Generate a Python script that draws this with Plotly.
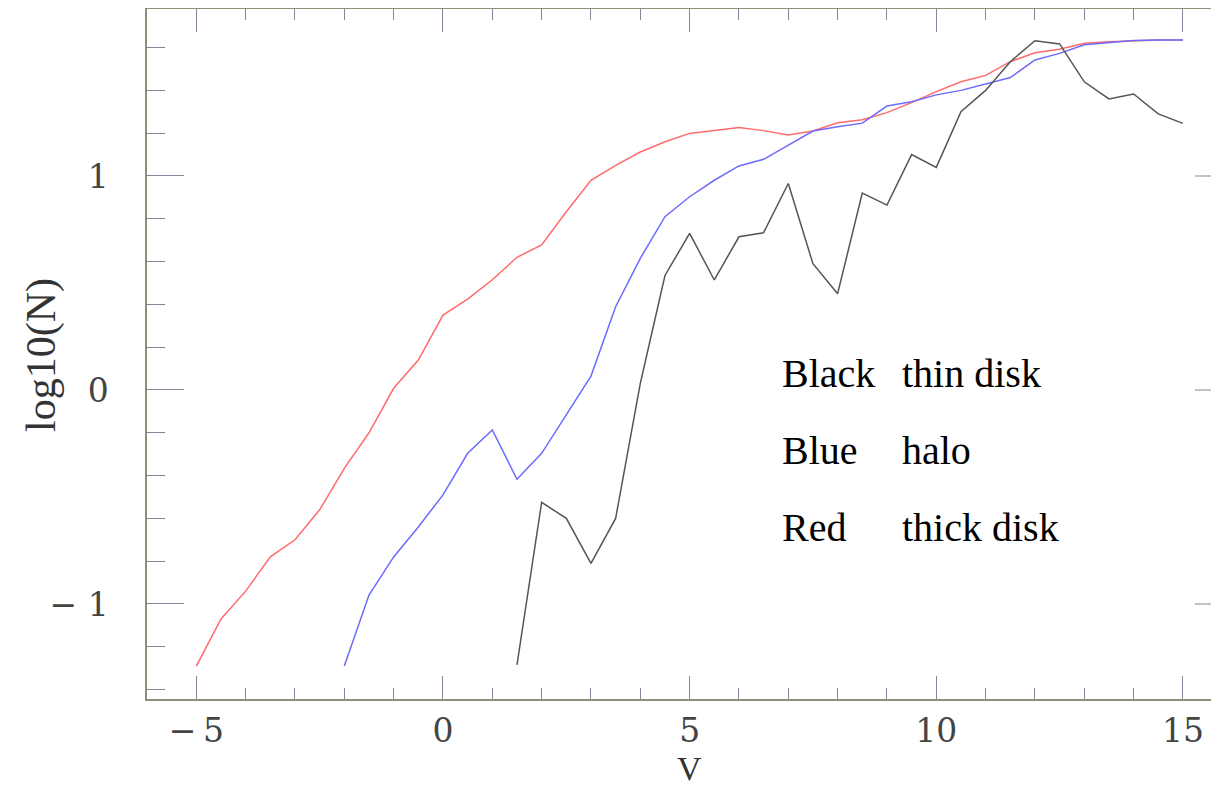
import plotly.graph_objects as go

# ---- data ----
v_red = [-5, -4.5, -4, -3.5, -3, -2.5, -2, -1.5, -1, -0.5, 0, 0.5, 1, 1.5, 2, 2.5, 3, 3.5, 4, 4.5,
         5, 5.5, 6, 6.5, 7, 7.5, 8, 8.5, 9, 9.5, 10, 10.5, 11, 11.5, 12, 12.5, 13, 13.5, 14, 14.5, 15]
n_red = [-1.29, -1.07, -0.94, -0.78, -0.70, -0.56, -0.366, -0.20, 0.008, 0.14, 0.35, 0.425, 0.515, 0.62,
         0.678, 0.833, 0.98, 1.05, 1.112, 1.16, 1.199, 1.212, 1.226, 1.212, 1.192, 1.21, 1.249, 1.263,
         1.296, 1.343, 1.394, 1.44, 1.47, 1.534, 1.576, 1.592, 1.62, 1.627, 1.633, 1.636, 1.636]

v_blue = [-2, -1.5, -1, -0.5, 0, 0.5, 1, 1.5, 2, 2.5, 3, 3.5, 4, 4.5, 5, 5.5, 6, 6.5, 7, 7.5, 8, 8.5,
          9, 9.5, 10, 10.5, 11, 11.5, 12, 12.5, 13, 13.5, 14, 14.5, 15]
n_blue = [-1.29, -0.958, -0.78, -0.64, -0.49, -0.296, -0.187, -0.417, -0.296, -0.117, 0.065, 0.389,
          0.615, 0.81, 0.903, 0.98, 1.047, 1.078, 1.145, 1.21, 1.23, 1.247, 1.327, 1.347, 1.379, 1.40,
          1.43, 1.46, 1.542, 1.573, 1.613, 1.623, 1.633, 1.636, 1.636]

v_black = [1.5, 2, 2.5, 3, 3.5, 4, 4.5, 5, 5.5, 6, 6.5, 7, 7.5, 8, 8.5, 9, 9.5, 10, 10.5, 11, 11.5,
           12, 12.5, 13, 13.5, 14, 14.5, 15]
n_black = [-1.285, -0.525, -0.60, -0.81, -0.60, 0.031, 0.535, 0.732, 0.514, 0.716, 0.735, 0.965, 0.59,
           0.45, 0.92, 0.864, 1.10, 1.04, 1.30, 1.40, 1.534, 1.632, 1.617, 1.44, 1.36, 1.383, 1.29, 1.246]

x_tickvals = [-5, 0, 5, 10, 15]
x_ticktext = ["\u2212\u20095", "0", "5", "10", "15"]
y_tickvals = [-1, 0, 1]
y_ticktext = ["\u2212 1", "0", "1"]

legend_names = ["Black", "Blue", "Red"]
legend_desc = ["thin disk", "halo", "thick disk"]
legend_y = [0.075, -0.285, -0.643]

# ---- figure (page body adds an 8px offset, so the figure is 8px smaller) ----
OFF = 8
W, H = 1219 - OFF, 786 - OFF
ML = 147 - OFF           # left frame at x=147 on the page
MT = 9 - OFF             # top frame at y=9 on the page
MB = H - (699 - OFF)     # bottom frame at y=699 on the page
plot_w = W - ML
plot_h = H - MT - MB
px_per_v = 49.33
px_per_n = 214.0
x_range = [-6.0, -6.0 + plot_w / px_per_v]
y_range = [-1.444, -1.444 + plot_h / px_per_n]

fig = go.Figure()
fig.add_trace(go.Scatter(x=v_red, y=n_red, mode="lines", line=dict(color="#ff6b6b", width=1.5),
                         showlegend=False))
fig.add_trace(go.Scatter(x=v_blue, y=n_blue, mode="lines", line=dict(color="#6b6bff", width=1.5),
                         showlegend=False))
fig.add_trace(go.Scatter(x=v_black, y=n_black, mode="lines", line=dict(color="#555555", width=1.5),
                         showlegend=False))

axis_col = "#8f8f7c"
tick_col = "#85859a"
tick_font = dict(family="DejaVu Serif", size=33, color="#444444")

fig.update_layout(
    width=W, height=H,
    margin=dict(l=ML, r=0, t=MT, b=MB, pad=0),
    paper_bgcolor="white", plot_bgcolor="white",
    xaxis=dict(range=x_range, showgrid=False, zeroline=False,
               showline=True, linecolor=axis_col, linewidth=1.5, mirror="ticks",
               ticks="inside", ticklen=23, tickwidth=1.2, tickcolor=tick_col,
               tickvals=x_tickvals, ticktext=x_ticktext, tickfont=tick_font,
               ticklabelstandoff=2,
               minor=dict(dtick=1, tick0=0, ticks="inside", ticklen=11, tickwidth=1.2,
                          tickcolor=tick_col, showgrid=False)),
    yaxis=dict(range=y_range, showgrid=False, zeroline=False,
               showline=True, linecolor=axis_col, linewidth=1.5, mirror=False,
               ticks="inside", ticklen=37, tickwidth=1.2, tickcolor=tick_col,
               tickvals=y_tickvals, ticktext=y_ticktext, tickfont=tick_font,
               ticklabelstandoff=30,
               minor=dict(dtick=0.2, tick0=0, ticks="inside", ticklen=18, tickwidth=1.2,
                          tickcolor=tick_col, showgrid=False)),
)

# right-hand frame ticks (the right frame edge lies just past the picture edge)
right_edge = (1232 - 147) / plot_w
shapes = []
k = round(y_range[0] / 0.2)
while k * 0.2 <= y_range[1] + 1e-9:
    yv = round(k * 0.2, 6)
    if yv >= y_range[0]:
        major = abs(yv - round(yv)) < 1e-6
        ln = 37 if major else 18
        shapes.append(dict(type="line", xref="paper", yref="y",
                           x0=right_edge - ln / plot_w, x1=right_edge, y0=yv, y1=yv,
                           line=dict(color=tick_col, width=1.2)))
    k += 1
fig.update_layout(shapes=shapes)

annos = []
for name, desc, yv in zip(legend_names, legend_desc, legend_y):
    annos.append(dict(x=6.83, y=yv, xref="x", yref="y", text=name, showarrow=False,
                      xanchor="left", yanchor="middle",
                      font=dict(family="Liberation Serif", size=40, color="black")))
    annos.append(dict(x=9.27, y=yv, xref="x", yref="y", text=desc, showarrow=False,
                      xanchor="left", yanchor="middle",
                      font=dict(family="Liberation Serif", size=40, color="black")))
annos.append(dict(x=5, y=-(768 - 699) / plot_h, xref="x", yref="paper", text="V", showarrow=False,
                  xanchor="center", yanchor="middle", borderpad=0,
                  font=dict(family="Liberation Serif", size=34, color="#333333")))
annos.append(dict(x=(42 - 147) / plot_w, y=(699 - 355) / plot_h, xref="paper", yref="paper",
                  text="log10(N)", textangle=-90, showarrow=False,
                  xanchor="center", yanchor="middle",
                  font=dict(family="Liberation Serif", size=42, color="#333333")))
fig.update_layout(annotations=annos)

fig.write_html("out.html")
